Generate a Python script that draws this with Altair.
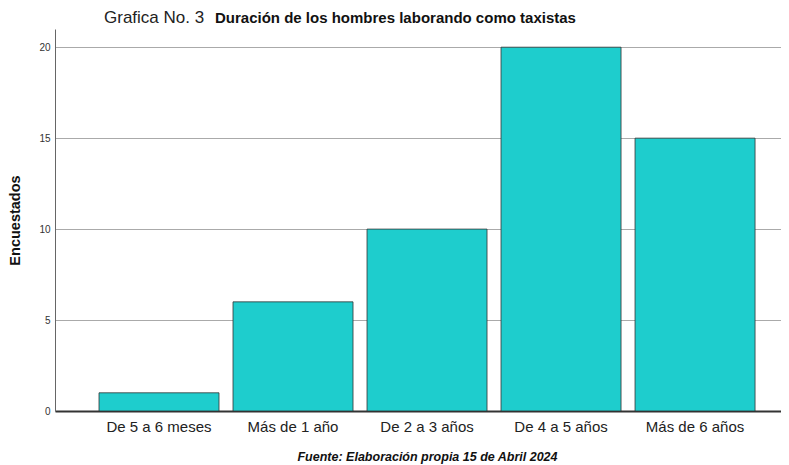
import altair as alt
import pandas as pd

categorias = ["De 5 a 6 meses", "Más de 1 año", "De 2 a 3 años", "De 4 a 5 años", "Más de 6 años"]
encuestados = [1, 6, 10, 20, 15]
y_ticks = [0, 5, 10, 15, 20]

df = pd.DataFrame({"categoria": categorias, "encuestados": encuestados})
FONT = "Liberation Sans"

bars = alt.Chart(df).mark_bar(
    color="#1ECDCD", stroke="#333333", strokeWidth=0.8
).encode(
    x=alt.X("categoria:N", sort=categorias,
            scale=alt.Scale(paddingInner=0.1045, paddingOuter=0.261, align=0.629),
            axis=alt.Axis(title="Fuente: Elaboración propia 15 de Abril 2024",
                          titleFont=FONT, titleFontSize=12.5, titleFontWeight="bold",
                          titleFontStyle="italic", titleColor="#111111", titlePadding=16,
                          titleX=372,
                          labelAngle=0, labelFont=FONT, labelFontSize=15, labelColor="#222222",
                          labelPadding=8, ticks=False, domainColor="#333333", domainWidth=2,
                          grid=False)),
    y=alt.Y("encuestados:Q",
            scale=alt.Scale(domain=[0, 21], nice=False),
            axis=alt.Axis(title="Encuestados", values=y_ticks, titleFont=FONT,
                          titleFontSize=14.5, titleFontWeight="bold", titleColor="#111111",
                          titlePadding=16, labelFont=FONT, labelFontSize=10,
                          labelColor="#333333", labelPadding=5, ticks=False,
                          domainColor="#666666", domainWidth=1,
                          grid=True, gridColor="#AAAAAA", gridWidth=1)),
)

t1 = alt.Chart(pd.DataFrame({"t": ["Grafica No. 3"]})).mark_text(
    font=FONT, fontSize=17, align="left", baseline="alphabetic", color="#222222"
).encode(text="t:N", x=alt.value(49), y=alt.value(-6))

t2 = alt.Chart(pd.DataFrame({"t": ["Duración de los hombres laborando como taxistas"]})).mark_text(
    font=FONT, fontSize=15, fontWeight="bold", align="left", baseline="alphabetic", color="#111111"
).encode(text="t:N", x=alt.value(160), y=alt.value(-6))

chart = alt.layer(bars, t1, t2).properties(
    width=726, height=382,
    autosize=alt.AutoSizeParams(type="none"),
    padding={"left": 47, "top": 21, "right": 0, "bottom": 53},
    background="white",
).configure_view(stroke=None)

chart.save("out.html", embed_options={"renderer": "svg", "actions": False})
